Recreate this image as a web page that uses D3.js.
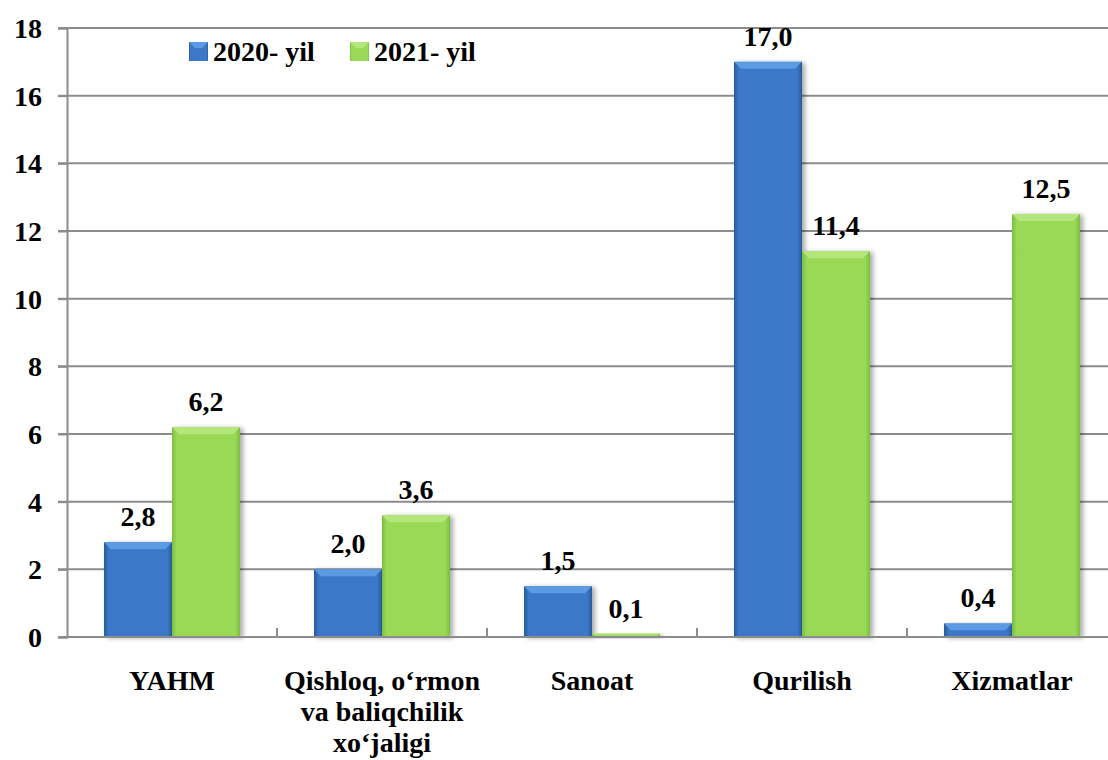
<!DOCTYPE html>
<html>
<head>
<meta charset="utf-8">
<script src="https://cdn.jsdelivr.net/npm/d3@7/dist/d3.min.js"></script>
</head>
<body style="margin:0">
<script>
const categories = ["YAHM", "Qishloq, o‘rmon\nva baliqchilik\nxo‘jaligi", "Sanoat", "Qurilish", "Xizmatlar"];
const seriesNames = ["2020- yil", "2021- yil"];
const values2020 = [2.8, 2.0, 1.5, 17.0, 0.4];
const values2021 = [6.2, 3.6, 0.1, 11.4, 12.5];
const yTicks = [0, 2, 4, 6, 8, 10, 12, 14, 16, 18];

const W = 1108, H = 760;
const FONT = "Liberation Serif";
const svg = d3.select("body").append("svg").attr("width", W).attr("height", H).style("display", "block");

const pL = 67, pR = 1117, pT = 28, pB = 637;
const x0 = d3.scaleBand().domain(categories).range([pL, pR]).padding(0);
const x1 = d3.scaleBand().domain(seriesNames).range([0, x0.bandwidth()]).paddingInner(0).paddingOuter(0.544);
const y = d3.scaleLinear().domain([0, 18]).range([pB, pT]);

function styleText(sel) {
  return sel.attr("font-family", FONT).attr("font-weight", "bold").attr("font-size", 28)
    .style("font-family", FONT).style("font-weight", "bold").style("font-size", "28px").attr("fill", "#000");
}

const defs = svg.append("defs");
function grad(id, edge, mid) {
  const g = defs.append("linearGradient").attr("id", id).attr("x1", "0").attr("x2", "1").attr("y1", "0").attr("y2", "0");
  g.append("stop").attr("offset", "0").attr("stop-color", edge);
  g.append("stop").attr("offset", "0.07").attr("stop-color", mid);
  g.append("stop").attr("offset", "0.93").attr("stop-color", mid);
  g.append("stop").attr("offset", "1").attr("stop-color", edge);
}
grad("gBlue", "#2a5a98", "#3b78c8");
grad("gGreen", "#7cbc43", "#99d957");
const f = defs.append("filter").attr("id", "sh").attr("x", "-20%").attr("y", "-20%").attr("width", "150%").attr("height", "150%");
f.append("feGaussianBlur").attr("in", "SourceAlpha").attr("stdDeviation", 2.5).attr("result", "b");
f.append("feOffset").attr("in", "b").attr("dx", 3).attr("dy", 1).attr("result", "o");
f.append("feComponentTransfer").attr("in", "o").attr("result", "o2").append("feFuncA").attr("type", "linear").attr("slope", 0.35);
const m = f.append("feMerge");
m.append("feMergeNode").attr("in", "o2");
m.append("feMergeNode").attr("in", "SourceGraphic");

// gridlines
svg.append("g").selectAll("line").data(yTicks.filter(t => t > 0)).join("line")
  .attr("x1", pL - 9).attr("x2", W).attr("y1", d => y(d)).attr("y2", d => y(d))
  .attr("stroke", "#8c8c8c").attr("stroke-width", 2);

// y axis
const yAxis = d3.axisLeft(y).tickValues(yTicks).tickSize(9).tickPadding(16).tickFormat(d3.format("d"));
const ga = svg.append("g").attr("transform", `translate(${pL},0)`).call(yAxis);
ga.attr("font-family", FONT);
ga.select(".domain").attr("stroke", "#8c8c8c").attr("stroke-width", 2);
ga.selectAll(".tick line").attr("stroke", "#8c8c8c").attr("stroke-width", 2);
styleText(ga.selectAll(".tick text")).attr("dy", "0.34em");

// bars
const data = categories.map((c, i) => ({ c, vals: [values2020[i], values2021[i]] }));
const groups = svg.append("g").selectAll("g").data(data).join("g").attr("transform", d => `translate(${x0(d.c)},0)`);
const fills = ["url(#gBlue)", "url(#gGreen)"];
const tops = ["#5b9be3", "#b3e77c"];
const bars = groups.selectAll("g.bar").data(d => d.vals.map((v, k) => ({ v, k }))).join("g").attr("class", "bar");
bars.append("rect")
  .attr("x", d => x1(seriesNames[d.k])).attr("width", x1.bandwidth())
  .attr("y", d => y(d.v)).attr("height", d => y(0) - y(d.v))
  .attr("fill", d => fills[d.k]).attr("filter", "url(#sh)");
bars.append("path")
  .attr("d", d => {
    const xa = x1(seriesNames[d.k]), w = x1.bandwidth(), yt = y(d.v), h = Math.min(7, (y(0) - y(d.v)) / 2);
    return `M${xa},${yt}L${xa + w},${yt}L${xa + w - h},${yt + h}L${xa + h},${yt + h}Z`;
  })
  .attr("fill", d => tops[d.k]);

// value labels
styleText(bars.append("text"))
  .attr("x", d => x1(seriesNames[d.k]) + x1.bandwidth() / 2)
  .attr("y", d => y(d.v) - 16)
  .attr("text-anchor", "middle")
  .text(d => d3.format(".1f")(d.v).replace(".", ","));

// x axis baseline and ticks
svg.append("line").attr("x1", pL - 9).attr("x2", W).attr("y1", y(0)).attr("y2", y(0)).attr("stroke", "#8c8c8c").attr("stroke-width", 2);
svg.append("g").selectAll("line").data(categories.slice(1)).join("line")
  .attr("x1", d => x0(d)).attr("x2", d => x0(d)).attr("y1", y(0)).attr("y2", y(0) - 9)
  .attr("stroke", "#8c8c8c").attr("stroke-width", 2);

// category labels
const cl = styleText(svg.append("g").selectAll("text").data(categories).join("text"))
  .attr("x", d => x0(d) + x0.bandwidth() / 2).attr("y", 690)
  .attr("text-anchor", "middle");
cl.each(function(d) {
  const lines = d.split("\n");
  d3.select(this).selectAll("tspan").data(lines).join("tspan")
    .attr("x", x0(d) + x0.bandwidth() / 2).attr("dy", (l, i) => i === 0 ? 0 : 31).text(l => l);
});

// legend
const legX = [189, 350];
const leg = svg.append("g").selectAll("g").data(seriesNames).join("g").attr("transform", (d, i) => `translate(${legX[i]},42)`);
leg.append("rect").attr("width", 19).attr("height", 19).attr("fill", (d, i) => fills[i]);
leg.append("path").attr("d", "M0,0L19,0L13,6L6,6Z").attr("fill", (d, i) => tops[i]);
styleText(leg.append("text")).attr("x", 24).attr("y", 19).text(d => d);
</script>
</body>
</html>
